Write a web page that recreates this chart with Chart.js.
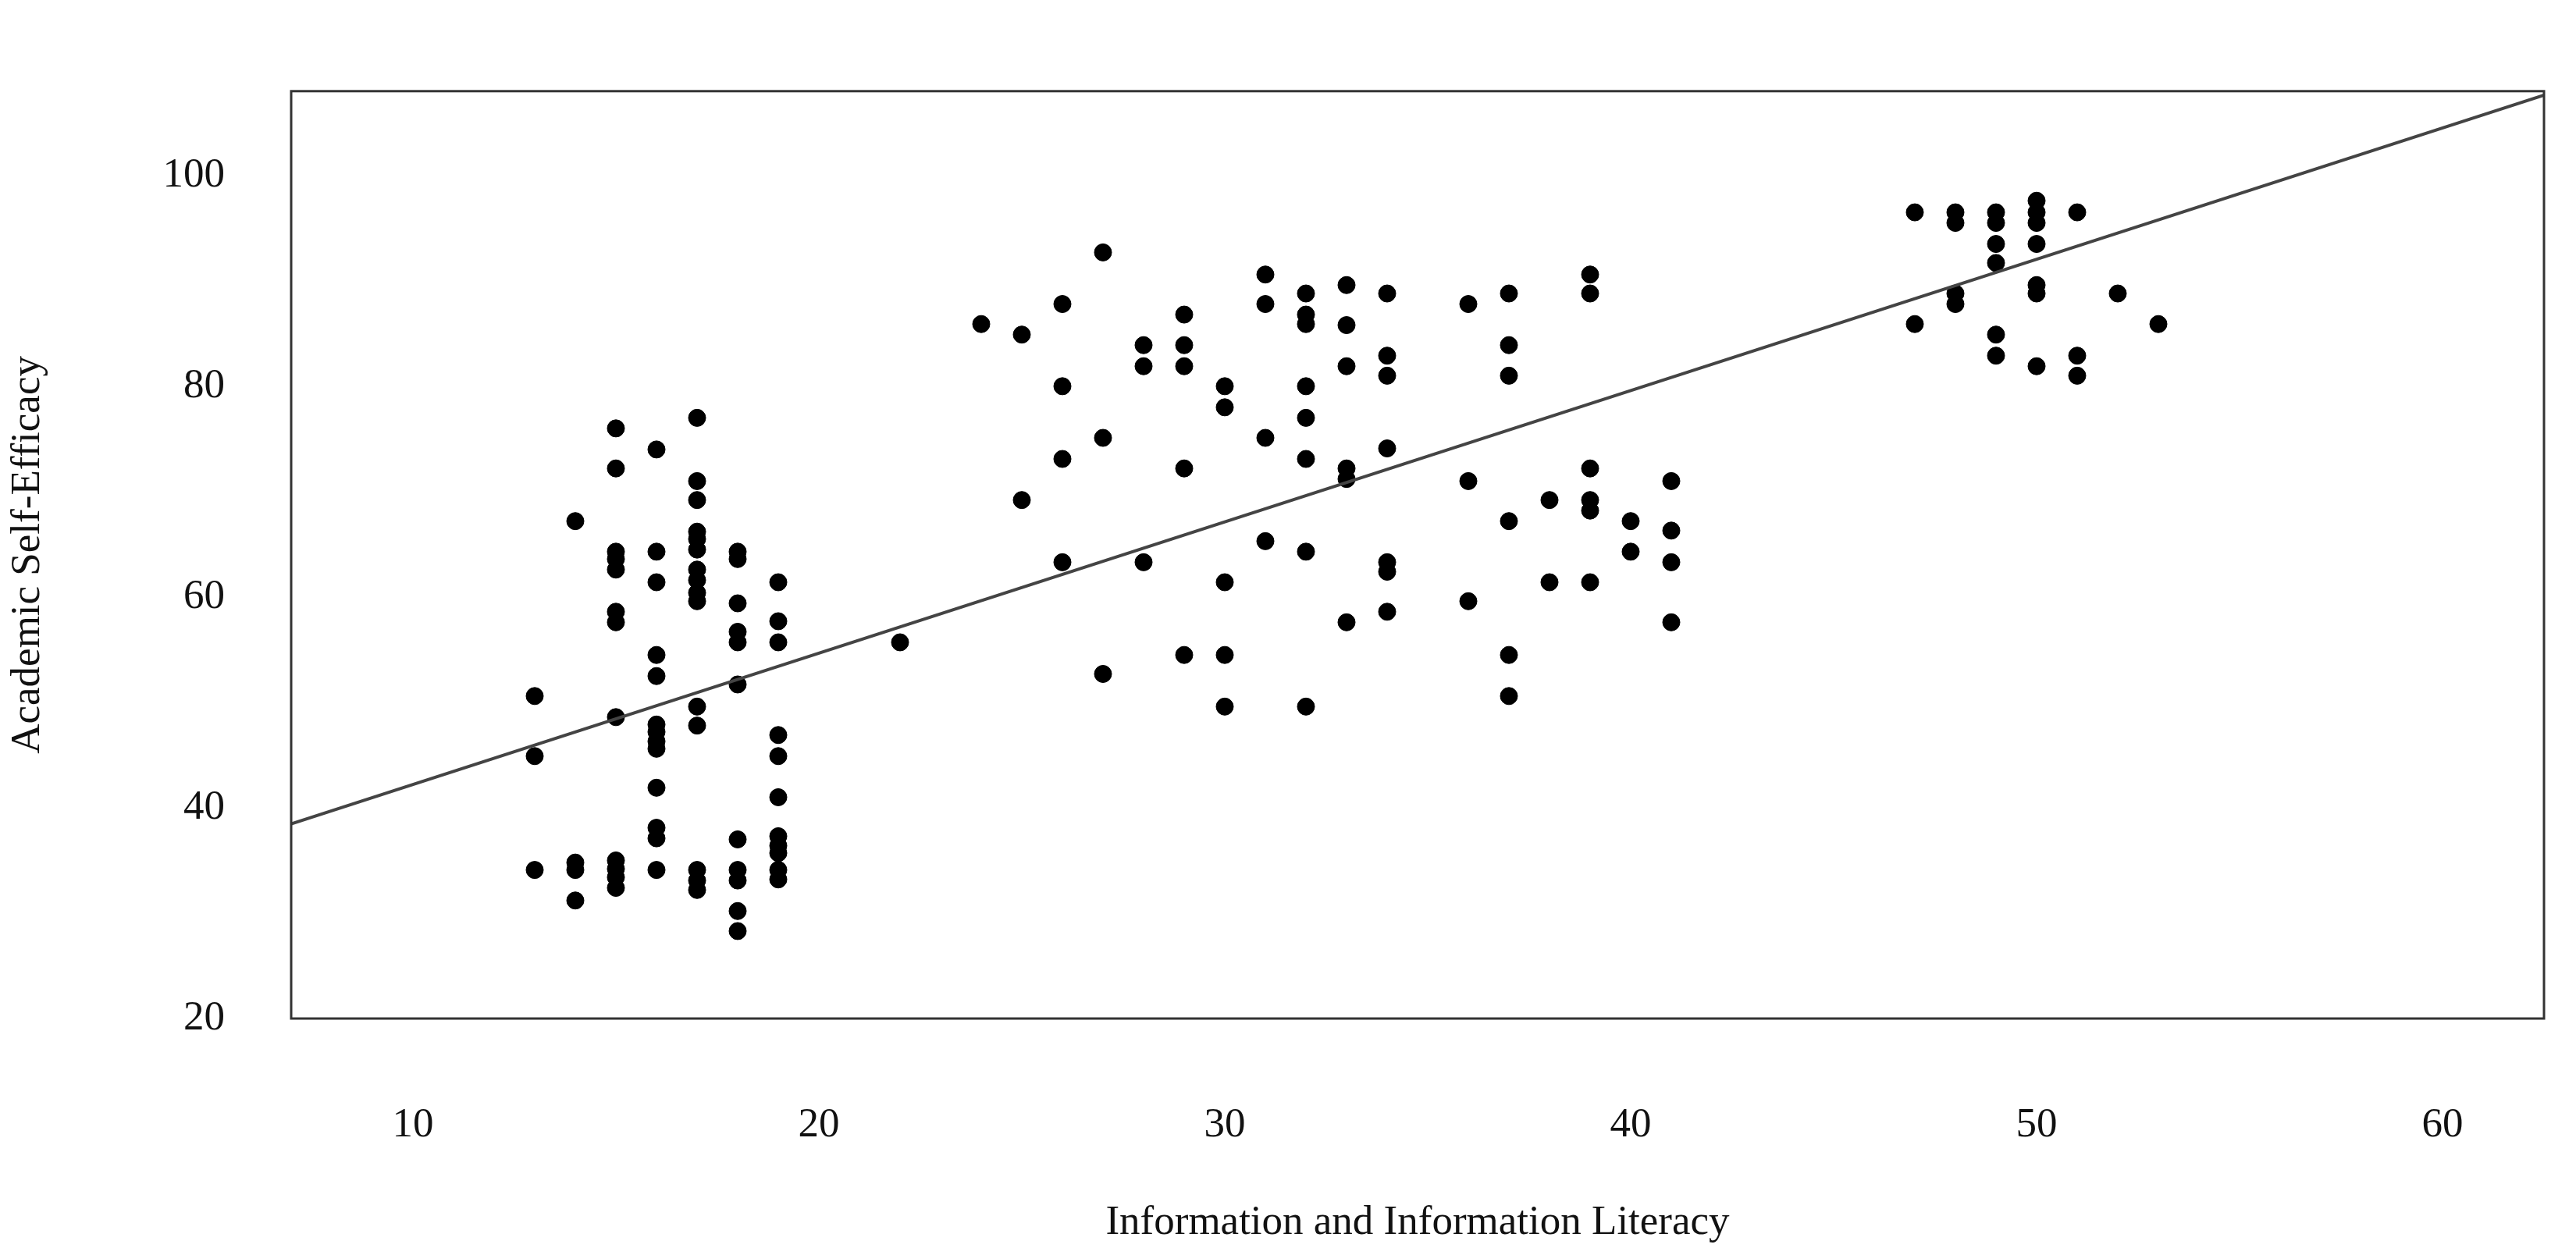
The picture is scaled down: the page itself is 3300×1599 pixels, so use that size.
<!DOCTYPE html>
<html><head><meta charset="utf-8">
<script src="https://cdn.jsdelivr.net/npm/chart.js@4"></script>
<style>html,body{margin:0;background:#fff;overflow:hidden}canvas{display:block}</style></head>
<body><canvas id="c" width="3300" height="1599" style="width:3300px;height:1599px"></canvas>
<script>
const xCols = [13,14,15,16,17,18,19,22,24,25,26,27,28,29,30,31,32,33,34,36,37,38,39,40,41,47,48,49,50,51,52,53];
const yCols = [
 [50.6,44.9,34.1],
 [67.2,34.8,34.1,31.2],
 [76,72.2,64.3,63.6,62.6,58.6,57.6,48.6,35,34.2,33.4,32.4],
 [74,64.3,61.4,54.5,52.5,47.9,47.2,46.3,45.6,41.9,38.1,37.1,34.1],
 [77,71,69.2,66.2,65.5,64.5,62.6,61.6,60.4,59.6,49.6,47.8,34.1,33.1,32.2],
 [64.3,63.6,59.4,56.7,55.7,51.7,37,34.1,33.1,30.2,28.3],
 [61.4,57.7,55.7,46.9,44.9,41,37.3,36.4,35.7,34.1,33.2],
 [55.7],
 [85.9],
 [84.9,69.2],
 [87.8,80,73.1,63.3],
 [92.7,75.1,52.7],
 [83.9,81.9,63.3],
 [86.8,83.9,81.9,72.2,54.5],
 [80,78,61.4,54.5,49.6],
 [90.6,87.8,75.1,65.3],
 [88.8,86.8,85.9,80,77,73.1,64.3,49.6],
 [89.6,85.8,81.9,72.2,71.2,57.6],
 [88.8,82.9,81,74.1,63.3,62.4,58.6],
 [87.8,71,59.6],
 [88.8,83.9,81,67.2,54.5,50.6],
 [69.2,61.4],
 [90.6,88.8,72.2,69.2,68.2,61.4],
 [67.2,64.3],
 [71,66.3,63.3,57.6],
 [96.5,85.9],
 [96.5,95.5,88.8,87.8],
 [96.5,95.5,93.5,91.7,84.9,82.9],
 [97.6,96.5,95.5,93.5,89.6,88.8,81.9],
 [96.5,82.9,81],
 [88.8],
 [85.9]
];
const xTicks = [10,20,30,40,50,60];
const yTicks = [20,40,60,80,100];
const fitIntercept = 29.75, fitSlope = 1.246;
const xMin = 7, xMax = 62.5;

const points = [];
xCols.forEach((x,i)=>yCols[i].forEach(y=>points.push({x,y})));
const fitLine = [xMin,xMax].map(x=>({x,y:fitIntercept+fitSlope*x}));

const boxPlugin = {id:'box',afterDraw(ch){const a=ch.chartArea,c=ch.ctx;c.save();c.strokeStyle='#333';c.lineWidth=3;c.strokeRect(a.left,a.top,a.right-a.left,a.bottom-a.top);c.restore();}};
const font = {family:'"Liberation Serif", serif', size:53};
new Chart(document.getElementById('c'),{
 type:'scatter',
 data:{datasets:[
  {data:points,pointStyle:'circle',pointRadius:11,backgroundColor:'#000',borderColor:'#000',order:2},
  {type:'line',data:fitLine,borderColor:'#444',borderWidth:4,pointRadius:0,fill:false,order:1}
 ]},
 options:{responsive:false,devicePixelRatio:1,animation:false,
  layout:{padding:{top:38,right:41,bottom:0,left:0}},
  plugins:{legend:{display:false},tooltip:{enabled:false}},
  scales:{
   x:{type:'linear',min:xMin,max:xMax,afterBuildTicks:s=>{s.ticks=xTicks.map(v=>({value:v}))},
      afterFit:s=>{s.height=294},
      grid:{display:false,drawTicks:false},border:{display:false},
      ticks:{font,color:'#111',padding:105,maxRotation:0},
      title:{display:true,text:'Information and Information Literacy',font,color:'#111',padding:{top:40,bottom:0}}},
   y:{type:'linear',min:20,max:108,afterBuildTicks:s=>{s.ticks=yTicks.map(v=>({value:v}))},
      afterFit:s=>{s.width=373},
      grid:{display:false,drawTicks:false},border:{display:false},
      ticks:{font,color:'#111',padding:85},
      title:{display:true,text:'Academic Self-Efficacy',font,color:'#111',padding:{bottom:20}}}
  }}
 ,plugins:[boxPlugin]});
</script></body></html>
